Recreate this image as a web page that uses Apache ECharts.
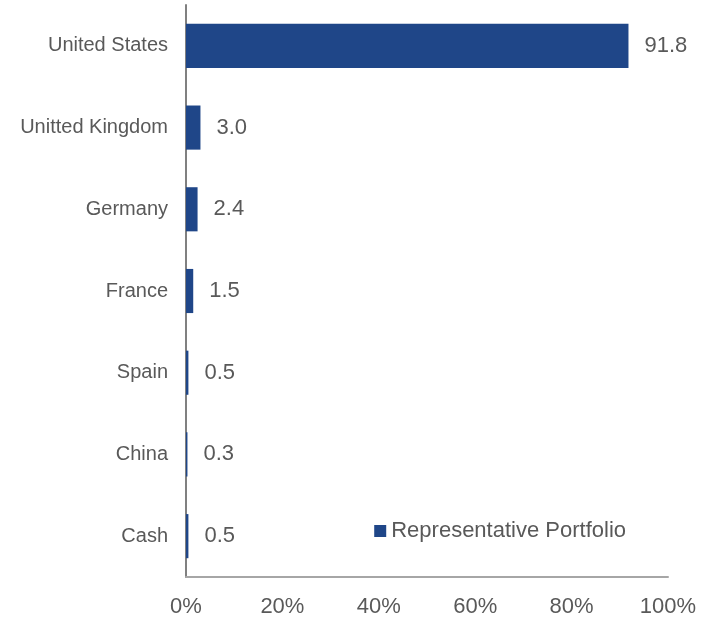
<!DOCTYPE html>
<html><head><meta charset="utf-8">
<script src="https://cdn.jsdelivr.net/npm/echarts@6/dist/echarts.min.js"></script>
<style>html,body{margin:0;padding:0;background:#fff}#c{width:711px;height:618px}</style>
</head><body><div id="c"></div>
<script>
const categories = ["United States","Unitted Kingdom","Germany","France","Spain","China","Cash"];
const values = [91.8, 3.0, 2.4, 1.5, 0.5, 0.3, 0.5];
const xTicks = [0, 20, 40, 60, 80, 100];
const seriesName = "Representative Portfolio";

const F = 'Liberation Sans';
const chart = echarts.init(document.getElementById('c'), null, {renderer:'canvas'});
chart.setOption({
  animation:false,
  backgroundColor:'#fff',
  grid:{left:186, top:5, width:482, height:573, containLabel:false},
  legend:{
    data:[seriesName], right:80, top:515, itemWidth:12, itemHeight:12, itemGap:6,
    icon:'rect',
    textStyle:{color:'#595959', fontSize:22, fontFamily:F}
  },
  xAxis:{
    type:'value', min:xTicks[0], max:xTicks[xTicks.length-1], interval:20,
    axisLine:{show:true, lineStyle:{color:'#a6a6a6', width:2}},
    axisTick:{show:false}, splitLine:{show:false},
    axisLabel:{formatter:'{value}%', color:'#595959', fontSize:22, fontFamily:F, margin:19}
  },
  yAxis:{
    type:'category', data:categories, inverse:true,
    axisLine:{show:true, lineStyle:{color:'#808080', width:2}},
    axisTick:{show:false},
    axisLabel:{color:'#595959', fontSize:20, fontFamily:F, margin:18}
  },
  series:[{
    name:seriesName, type:'bar', data:values, barCategoryGap:'46%',
    itemStyle:{color:'#1F4688'},
    label:{show:true, position:'right', distance:16, color:'#595959', fontSize:22, fontFamily:F,
      formatter:p=>p.value.toFixed(1)}
  }]
});
</script></body></html>
